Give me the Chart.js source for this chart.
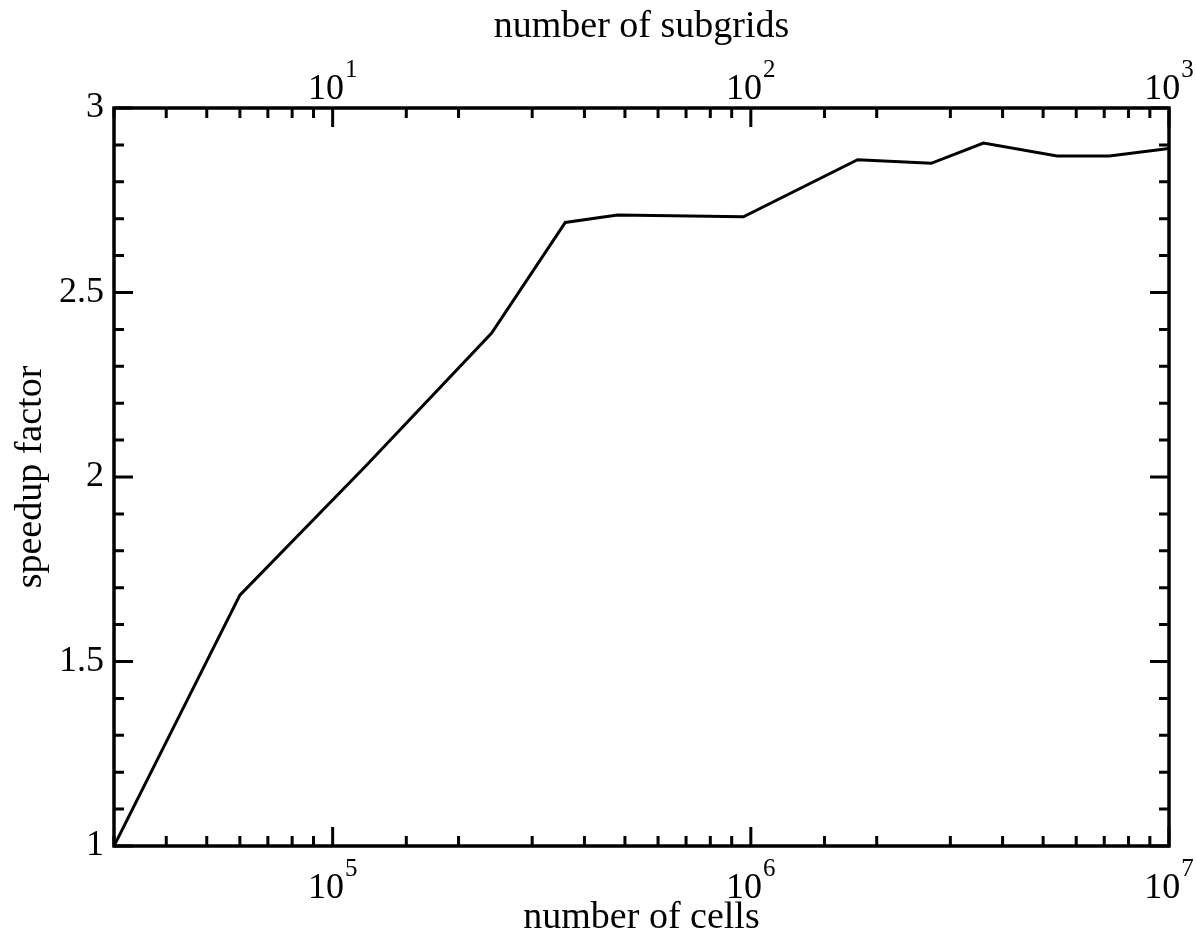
<!DOCTYPE html>
<html>
<head>
<meta charset="utf-8">
<script src="https://cdn.jsdelivr.net/npm/chart.js@4.4.1/dist/chart.umd.min.js"></script>
<style>
  html, body { margin: 0; padding: 0; background: #fff; }
  #wrap { width: 1196px; height: 937px; }
</style>
</head>
<body>
<div id="wrap"><canvas id="speedChart"></canvas></div>
<script>
    // --- data ---
    const cells = [3e4, 6e4, 1.2e5, 2.4e5, 3.6e5, 4.8e5, 9.6e5, 1.8e6, 2.7e6, 3.6e6, 5.4e6, 7.2e6, 1e7];
    const speedup = [1.0, 1.68, 2.03, 2.39, 2.69, 2.71, 2.705, 2.86, 2.85, 2.905, 2.87, 2.87, 2.89];
    const cellsPerSubgrid = 1e4;          // top axis = cells / 1e4
    const xRange = [3e4, 1e7];
    const yRange = [1, 3];
    const yLabels = [1, 1.5, 2, 2.5, 3];   // labelled y ticks
    const cellDecades = [5, 6, 7];         // 10^n labels on the bottom axis
    const subgridDecades = [1, 2, 3];      // 10^n labels on the top axis

    const serif = "'Liberation Serif', 'Times New Roman', serif";
    const isDecade = v => Math.abs(Math.log10(v) - Math.round(Math.log10(v))) < 1e-9;

    // inward tick marks, frame and 10^n labels (xmgrace style)
    const frameAndTicks = {
        id: 'frameAndTicks',
        afterDraw(chart) {
            const ctx = chart.ctx;
            const a = chart.chartArea;
            const x = chart.scales.x, x2 = chart.scales.x2, y = chart.scales.y;
            ctx.save();
            ctx.strokeStyle = '#000';
            ctx.lineWidth = 3;
            ctx.beginPath();
            x.ticks.forEach(t => {
                const px = x.getPixelForValue(t.value);
                const len = isDecade(t.value) ? 19 : 10;
                ctx.moveTo(px, a.bottom); ctx.lineTo(px, a.bottom - len);
            });
            x2.ticks.forEach(t => {
                const px = x2.getPixelForValue(t.value);
                const len = isDecade(t.value) ? 19 : 10;
                ctx.moveTo(px, a.top); ctx.lineTo(px, a.top + len);
            });
            y.ticks.forEach(t => {
                const py = y.getPixelForValue(t.value);
                const major = yLabels.some(v => Math.abs(v - t.value) < 1e-6);
                const len = major ? 19 : 10;
                ctx.moveTo(a.left, py); ctx.lineTo(a.left + len, py);
                ctx.moveTo(a.right, py); ctx.lineTo(a.right - len, py);
            });
            ctx.stroke();
            ctx.lineWidth = 3.5;
            ctx.strokeRect(a.left, a.top, a.right - a.left, a.bottom - a.top);

            // 10^n labels
            ctx.fillStyle = '#000';
            ctx.textBaseline = 'alphabetic';
            const drawPow = (px, n, baseY) => {
                ctx.font = '36px ' + serif;
                const w1 = ctx.measureText('10').width;
                ctx.font = '25px ' + serif;
                const w2 = ctx.measureText(String(n)).width;
                const left = px - (w1 + 1 + w2) / 2;
                ctx.font = '36px ' + serif;
                ctx.textAlign = 'left';
                ctx.fillText('10', left, baseY);
                ctx.font = '25px ' + serif;
                ctx.fillText(String(n), left + w1 + 1, baseY - 22);
            };
            cellDecades.forEach(n => drawPow(x.getPixelForValue(Math.pow(10, n)), n, a.bottom + 52));
            subgridDecades.forEach(n => drawPow(x2.getPixelForValue(Math.pow(10, n)), n, a.top - 9));
            ctx.restore();
        }
    };

    const ctx = document.getElementById('speedChart').getContext('2d');
    const speedChart = new Chart(ctx, {
        type: 'line',
        data: {
            datasets: [{
                label: 'speedup',
                data: cells.map((c, i) => ({ x: c, y: speedup[i] })),
                borderColor: '#000',
                borderWidth: 3,
                pointRadius: 0,
                tension: 0,
                fill: false
            }]
        },
        options: {
            responsive: true,
            maintainAspectRatio: false,
            animation: false,
            layout: { padding: { left: 0, right: 27, top: 0, bottom: 0 } },
            plugins: { legend: { display: false }, tooltip: { enabled: false } },
            scales: {
                x: {
                    type: 'logarithmic',
                    position: 'bottom',
                    min: xRange[0], max: xRange[1],
                    grid: { display: false, drawTicks: false },
                    border: { display: false },
                    ticks: { display: false, autoSkip: false },
                    title: {
                        display: true, text: 'number of cells', color: '#000',
                        font: { family: serif, size: 38, lineHeight: 1 },
                        padding: 0
                    },
                    afterFit: s => { s.height = 91; }
                },
                x2: {
                    type: 'logarithmic',
                    position: 'top',
                    axis: 'x',
                    min: xRange[0] / cellsPerSubgrid, max: xRange[1] / cellsPerSubgrid,
                    grid: { display: false, drawTicks: false },
                    border: { display: false },
                    ticks: { display: false, autoSkip: false },
                    title: {
                        display: true, text: 'number of subgrids', color: '#000',
                        font: { family: serif, size: 38, lineHeight: 1 },
                        padding: { top: 8 }
                    },
                    afterFit: s => { s.height = 108; }
                },
                y: {
                    min: yRange[0], max: yRange[1],
                    grid: { display: false, drawTicks: false },
                    border: { display: false },
                    ticks: {
                        stepSize: 0.1, autoSkip: false, maxTicksLimit: 100,
                        color: '#000', padding: 10,
                        font: { family: serif, size: 36 },
                        callback: v => {
                            const hit = yLabels.find(l => Math.abs(l - v) < 1e-6);
                            return hit === undefined ? '' : String(hit);
                        }
                    },
                    title: {
                        display: true, text: 'speedup factor', color: '#000',
                        font: { family: serif, size: 38, lineHeight: 1 },
                        padding: { top: 12 }
                    },
                    afterFit: s => { s.width = 114; }
                }
            }
        },
        plugins: [frameAndTicks]
    });
</script>
</body>
</html>
